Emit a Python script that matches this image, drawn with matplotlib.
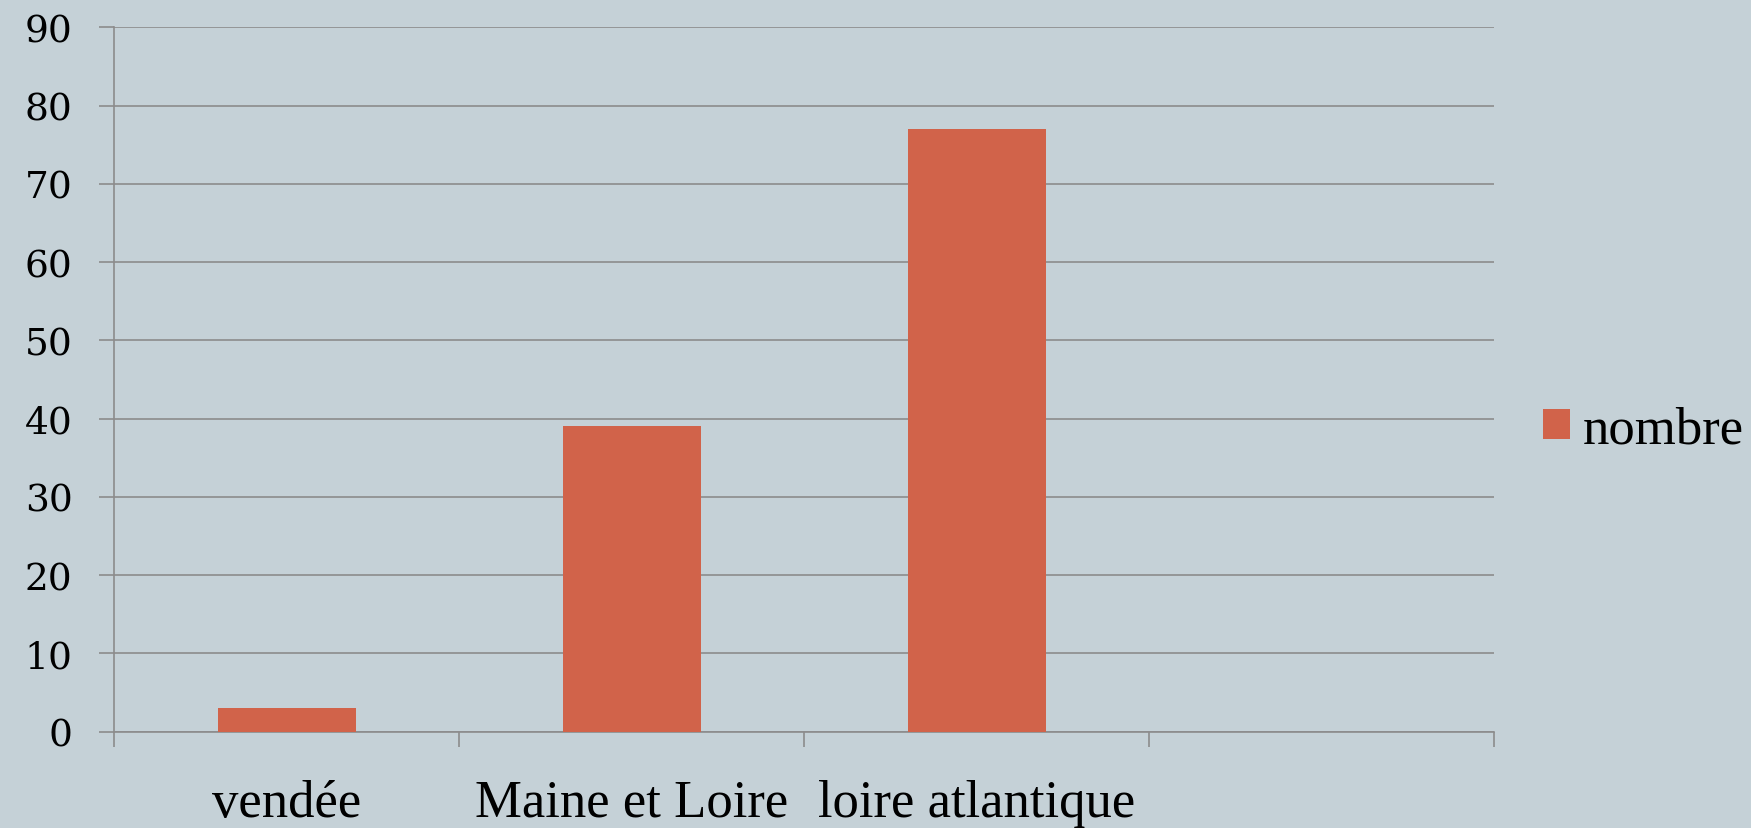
import matplotlib.pyplot as plt
import numpy as np

# chart data
categories = ["vendée", "Maine et Loire", "loire atlantique", ""]
nombre = [3, 39, 77]
y_ticks = [0, 10, 20, 30, 40, 50, 60, 70, 80, 90]

BG = '#c5d1d7'
BAR = '#d1634a'
GRID = '#8c8c8c'

fig = plt.figure(figsize=(17.51, 8.29), dpi=100)
fig.patch.set_facecolor(BG)
ax = fig.add_axes([114 / 1751, 1 - 732.7 / 829, (1494 - 114) / 1751, (732.7 - 28.3) / 829])
ax.set_facecolor(BG)

x = np.arange(len(nombre))
ax.bar(x, nombre, width=0.40, color=BAR, label='nombre', zorder=3)

ax.set_xlim(-0.5, len(categories) - 0.5)
ax.set_ylim(0, 90)

# horizontal gridlines
ax.set_yticks(y_ticks)
ax.yaxis.grid(True, color=GRID, linewidth=1.2)
ax.set_axisbelow(True)

# category labels centred, ticks on boundaries
ax.set_xticks(np.arange(len(categories)))
ax.set_xticklabels(categories, fontfamily='Liberation Serif', fontsize=38)
ax.set_xticks(np.arange(len(categories) + 1) - 0.5, minor=True)
ax.tick_params(axis='x', which='major', length=0, pad=34)
ax.tick_params(axis='x', which='minor', length=10.8, width=1.2, color=GRID)
ax.tick_params(axis='y', length=10.8, width=1.2, color=GRID, pad=19)
for lbl in ax.get_yticklabels():
    lbl.set_fontfamily('DejaVu Serif')
    lbl.set_fontsize(27)

for s in ['top', 'right']:
    ax.spines[s].set_visible(False)
for s in ['left', 'bottom']:
    ax.spines[s].set_color(GRID)
    ax.spines[s].set_linewidth(1.2)

fig.legend(loc='center left', bbox_to_anchor=(1517 / 1751, 1 - 431 / 829),
           frameon=False, prop={'family': 'Liberation Serif', 'size': 38},
           handlelength=0.5, handleheight=0.5, handletextpad=0.25, borderpad=0)

fig.savefig('out.png', dpi=100, facecolor=BG)
